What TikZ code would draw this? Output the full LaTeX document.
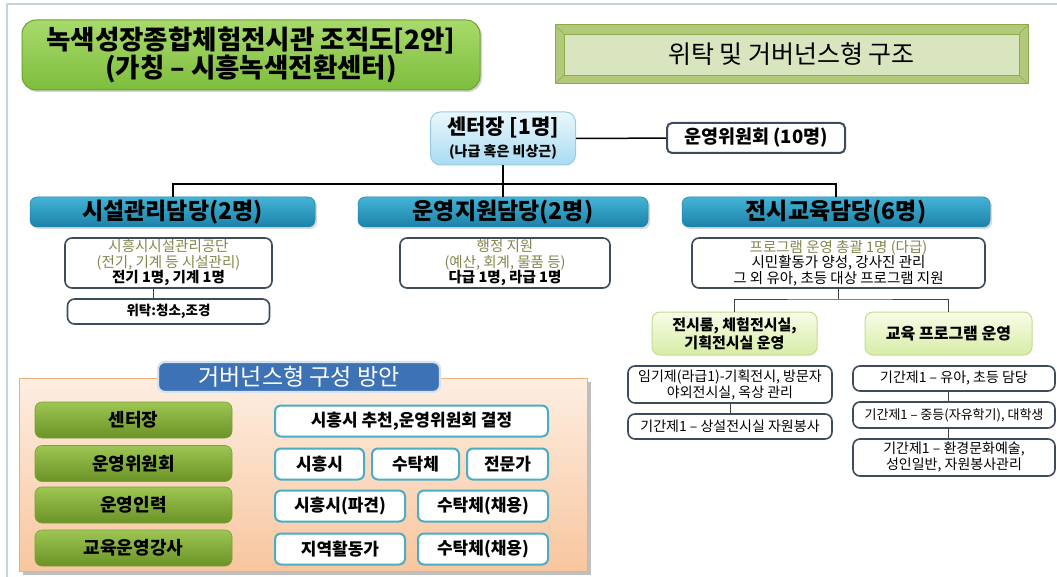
\documentclass[tikz,border=0pt]{standalone}
\usepackage{fontspec}
\setmainfont{Noto Sans CJK KR}
\usetikzlibrary{calc,shadows}
\definecolor{frameC}{HTML}{C4D2E2}
\definecolor{tgT}{HTML}{A9DA6C}
\definecolor{tgB}{HTML}{7DBD3C}
\definecolor{tgD}{HTML}{6BA32E}
\definecolor{bvl}{HTML}{B2C97A}
\definecolor{bvlD}{HTML}{8DAA4C}
\definecolor{inF}{HTML}{D9E5BE}
\definecolor{cT}{HTML}{EAF7FD}
\definecolor{cB}{HTML}{A8DBF1}
\definecolor{cD}{HTML}{98CCE4}
\definecolor{dT}{HTML}{44B3D6}
\definecolor{dB}{HTML}{1B82A8}
\definecolor{subD}{HTML}{3D4B5C}
\definecolor{olv}{HTML}{85854C}
\definecolor{lgT}{HTML}{F7FCE8}
\definecolor{lgB}{HTML}{D8ECA6}
\definecolor{lgD}{HTML}{C6DB92}
\definecolor{pT}{HTML}{FDEEE2}
\definecolor{pB}{HTML}{F8C69E}
\definecolor{pD}{HTML}{EDB07C}
\definecolor{tabF}{HTML}{3D72B4}
\definecolor{tabD}{HTML}{D5E2F0}
\definecolor{rgT}{HTML}{9EC653}
\definecolor{rgB}{HTML}{6A9226}
\definecolor{rgD}{HTML}{7C9F3C}
\definecolor{wD}{HTML}{4BACC6}
\newcommand{\fsz}[2]{\fontsize{#1}{#2}\selectfont}
\begin{document}
\begin{tikzpicture}[x=1pt,y=-1pt,
  box/.style={rectangle, align=center, inner sep=1pt, text=black},
  titlebox/.style={box, rounded corners=14pt, top color=tgT, bottom color=tgB, draw=tgD, line width=1pt,
     drop shadow={opacity=0.35, shadow xshift=2pt, shadow yshift=-2pt}},
  ctrbox/.style={box, rounded corners=10pt, top color=cT, bottom color=cB, draw=cD, line width=1pt},
  dept/.style={box, rounded corners=7pt, top color=dT, bottom color=dB, draw=dB, line width=0.5pt,
     font=\fsz{23}{24}\bfseries, minimum height=30,
     drop shadow={opacity=0.3, shadow xshift=2pt, shadow yshift=-2pt}},
  sub/.style={box, rounded corners=7pt, draw=subD, line width=1.6pt, fill=white},
  lgreen/.style={box, rounded corners=8pt, top color=lgT, bottom color=lgB, draw=lgD, line width=1pt,
     font=\fsz{15}{18}\bfseries, minimum height=43},
  small/.style={sub, font=\fsz{14}{16}},
  rowg/.style={box, rounded corners=7pt, top color=rgT, bottom color=rgB, draw=rgD, line width=0.6pt,
     font=\fsz{18}{20}\bfseries, minimum width=197, minimum height=36},
  wbox/.style={box, rounded corners=6pt, draw=wD, line width=2pt, fill=white,
     font=\fsz{17}{19}\bfseries, minimum height=31},
  main/.style={line width=2pt, black},
  thin/.style={line width=1pt, black!75}]
\useasboundingbox (0,0) rectangle (1057,577);
\fill[white] (0,0) rectangle (1057,577);
\draw[frameC, line width=1.2pt] (7,577) -- (7,4) -- (1057,4);

% titles
\node[titlebox, minimum width=458, minimum height=70, font=\fsz{26.5}{27}\bfseries] (title) at (251,55)
  {녹색성장종합체험전시관 조직도[2안]\\(가칭 – 시흥녹색전환센터)};
\node[box, minimum width=473, minimum height=59, fill=bvl, draw=bvlD, line width=1pt, font=\fsz{25}{27},
  path picture={
    \fill[inF, draw=bvlD, line width=0.6pt] ([shift={(9pt,-9pt)}]path picture bounding box.north west) rectangle ([shift={(-9pt,9pt)}]path picture bounding box.south east);
    \draw[bvlD, line width=0.6pt] (path picture bounding box.north west) -- ++(9pt,-9pt)
      (path picture bounding box.north east) -- ++(-9pt,-9pt)
      (path picture bounding box.south west) -- ++(9pt,9pt)
      (path picture bounding box.south east) -- ++(-9pt,9pt);
  }] (rt) at (791.5,54.5) {위탁 및 거버넌스형 구조};

% top of chart
\node[ctrbox, minimum width=145, minimum height=53, font=\fsz{21}{22}\bfseries] (ctr) at (503,138.5)
  {센터장 [1명]\\{\fsz{14}{16}(나급 혹은 비상근)}};
\node[sub, line width=2pt, rounded corners=5pt, minimum width=178, minimum height=30, font=\fsz{18.5}{20}\bfseries] (com) at (756,138)
  {운영위원회 (10명)};
\draw[line width=1.5pt] (ctr) -- (com);

\node[dept, minimum width=285] (d1) at (172.5,212) {시설관리담당(2명)};
\node[dept, minimum width=290] (d2) at (503,212) {운영지원담당(2명)};
\node[dept, minimum width=308] (d3) at (836,212) {전시교육담당(6명)};
\coordinate (bus) at (503,184);
\draw[main] (ctr.south) -- (d2.north);
\draw[main] (d1.north) |- (bus) -| (d3.north);

% department sub boxes
\node[sub, minimum width=207, minimum height=50, font=\fsz{14.5}{15.5}] (s1) at (168.5,263)
  {\textcolor{olv}{시흥시시설관리공단}\\\textcolor{olv}{(전기, 기계 등 시설관리)}\\\textbf{전기 1명, 기계 1명}};
\node[sub, minimum width=202, minimum height=25, font=\fsz{13.5}{15}\bfseries] (s1b) at (168.5,311.5) {위탁:청소,조경};
\draw[thin] ([xshift=-15pt]s1.south) -- ([xshift=-15pt]s1b.north);

\node[sub, minimum width=210, minimum height=50, font=\fsz{14.5}{15.5}] (s2) at (505,263)
  {\textcolor{olv}{행정 지원}\\\textcolor{olv}{(예산, 회계, 물품 등)}\\\textbf{다급 1명, 라급 1명}};

\node[sub, minimum width=293, minimum height=50, font=\fsz{14.5}{15.5}] (s3) at (838.5,263)
  {\textcolor{olv}{프로그램 운영 총괄 1명 (다급)}\\시민활동가 양성, 강사진 관리\\그 외 유아, 초등 대상 프로그램 지원};

\node[lgreen, minimum width=165] (g1) at (734.5,333.5) {전시룸, 체험전시실,\\기획전시실 운영};
\node[lgreen, minimum width=167, font=\fsz{16}{18}\bfseries] (g2) at (948.5,333.5) {교육 프로그램 운영};
\coordinate (bus2) at (838.5,299);
\draw[thin] (s3.south) -- (bus2);
\draw[thin] (g1.north) |- (bus2) -| (g2.north);

\node[small, minimum width=204, minimum height=37] (b1) at (730,384.5)
  {임기제(라급1)-기획전시, 방문자\\야외전시실, 옥상 관리};
\node[small, minimum width=204, minimum height=25] (b2) at (730,426.5)
  {기간제1 – 상설전시실 자원봉사};
\draw[thin] (b1) -- (b2);

\node[small, minimum width=202, minimum height=25] (c1) at (954,378.5) {기간제1 – 유아, 초등 담당};
\node[small, minimum width=202, minimum height=26, font=\fsz{13}{15}] (c2) at (954,415) {기간제1 – 중등(자유학기), 대학생};
\node[small, minimum width=202, minimum height=37] (c3) at (954,457.5) {기간제1 – 환경문화예술,\\성인일반, 자원봉사관리};
\draw[thin] ([xshift=-6pt]c1.south) -- ([xshift=-6pt]c2.north);
\draw[thin] ([xshift=-6pt]c2.south) -- ([xshift=-6pt]c3.north);

% governance panel
\node[box, minimum width=568, minimum height=193, top color=pT, bottom color=pB, draw=pD, line width=1pt,
  drop shadow={opacity=0.45, shadow xshift=4pt, shadow yshift=-4pt, fill=black!55}] (panel) at (303,474.5) {};
\node[box, rounded corners=7pt, minimum width=282, minimum height=30, fill=tabF, draw=tabD, line width=2.2pt,
  text=white, font=\fsz{23}{25}] (tab) at (299,377) {거버넌스형 구성 방안};

\node[rowg] (r1) at (133.5,420) {센터장};
\node[rowg] (r2) at (133.5,463.5) {운영위원회};
\node[rowg] (r3) at (133.5,505) {운영인력};
\node[rowg] (r4) at (133.5,548) {교육운영강사};

\node[wbox, minimum width=273] (w11) at (411.5,421) {시흥시 추천,운영위원회 결정};
\node[wbox, minimum width=89] (w21) at (319.5,464) {시흥시};
\node[wbox, minimum width=87] (w22) at (415.5,464) {수탁체};
\node[wbox, minimum width=81] (w23) at (507.5,464) {전문가};
\node[wbox, minimum width=130] (w31) at (340,506) {시흥시(파견)};
\node[wbox, minimum width=130] (w32) at (483,506) {수탁체(채용)};
\node[wbox, minimum width=130] (w41) at (340,549) {지역활동가};
\node[wbox, minimum width=130] (w42) at (483,549) {수탁체(채용)};
\end{tikzpicture}
\end{document}
